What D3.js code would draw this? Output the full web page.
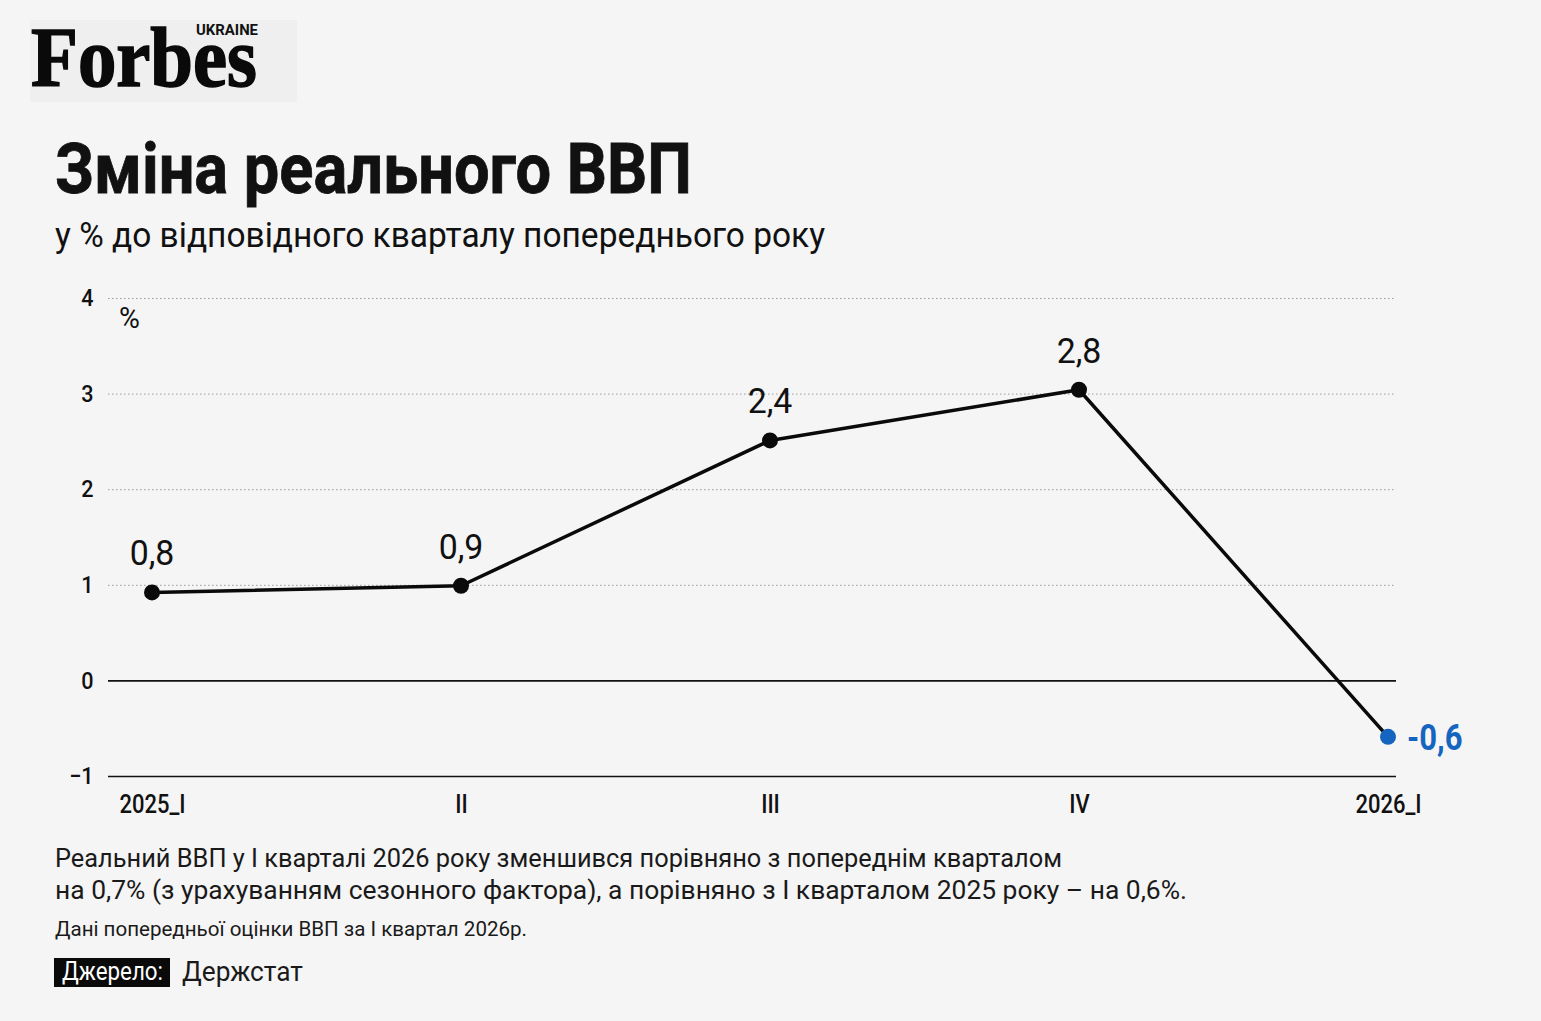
<!DOCTYPE html>
<html>
<head>
<meta charset="utf-8">
<script src="https://cdn.jsdelivr.net/npm/d3@7"></script>
<style>
  body { margin: 0; background: #f5f5f5; }
  svg { display: block; }
</style>
</head>
<body>
<div id="chart"></div>
<script>
let width = 1541;
let height = 1021;

// quarters and values
let quarters = ["2025_I", "II", "III", "IV", "2026_I"];
let plotted = [0.92, 0.99, 2.51, 3.04, -0.59];   // where the dots sit
let valueLabels = ["0,8", "0,9", "2,4", "2,8", "-0,6"];
let yTicks = [-1, 0, 1, 2, 3, 4];

let blue = "#1565c0";
let cond = 0.84; // squeeze Roboto into a condensed look

let svg = d3.select("#chart")
	.append("svg")
	.attr("width", width)
	.attr("height", height)
	.style("background-color", "#f5f5f5");

let x = d3.scalePoint().domain(quarters).range([152, 1388]);
let y = d3.scaleLinear().domain([-1, 4]).range([776, 298]);

function label(str, px, py, size, opts) {
	opts = opts || {};
	let g = svg.append("g").attr("transform", "translate(" + px + "," + py + ") scale(" + (opts.sx || cond) + ",1)");
	let t = g.append("text")
		.text(str)
		.attr("font-family", "Roboto, 'Noto Sans', sans-serif")
		.attr("font-size", size)
		.attr("font-weight", opts.weight || 400)
		.attr("fill", opts.fill || "#111")
		.attr("text-anchor", opts.anchor || "start");
	if (opts.len) t.attr("textLength", opts.len / (opts.sx || cond)).attr("lengthAdjust", "spacingAndGlyphs");
	return t;
}

/*------------------------- logo -------------------------*/

svg.append("rect").attr("x", 30).attr("y", 20).attr("width", 267).attr("height", 82).attr("fill", "#efefef");
svg.append("text").text("Forbes")
	.attr("x", 31).attr("y", 86)
	.attr("font-family", "'Liberation Serif', 'DejaVu Serif', serif")
	.attr("font-weight", 700)
	.attr("font-size", 84)
	.attr("textLength", 226).attr("lengthAdjust", "spacingAndGlyphs")
	.attr("fill", "#0a0a0a")
	.attr("stroke", "#0a0a0a")
	.attr("stroke-width", 1.6);
svg.append("text").text("UKRAINE")
	.attr("x", 196).attr("y", 35)
	.attr("font-family", "Roboto, sans-serif")
	.attr("font-weight", 700)
	.attr("font-size", 15)
	.attr("textLength", 62).attr("lengthAdjust", "spacingAndGlyphs")
	.attr("fill", "#111");

/*------------------------- titles -------------------------*/

label("Зміна реального ВВП", 55, 193, 70, {weight: 700, len: 637}).attr("stroke", "#111").attr("stroke-width", 0.8);
label("у % до відповідного кварталу попереднього року", 55, 247, 36, {len: 770});

/*------------------------- axes -------------------------*/

let yAxis = svg.append("g")
	.attr("transform", "translate(108,0)")
	.call(d3.axisLeft(y).tickValues(yTicks).tickSize(-(1396 - 108)).tickPadding(16).tickFormat(d3.format("d")));

yAxis.select(".domain").remove();
yAxis.selectAll(".tick line")
	.attr("stroke", function(d){ return d <= 0 ? "#111" : "#9a9a9a"; })
	.attr("stroke-width", function(d){ return d <= 0 ? 1.6 : 1; })
	.attr("stroke-dasharray", function(d){ return d <= 0 ? null : "1.5,2.5"; });
yAxis.selectAll(".tick text")
	.attr("font-family", "Roboto, sans-serif")
	.attr("font-size", 24)
	.attr("font-weight", 500)
	.attr("fill", "#111")
	.attr("transform", "scale(0.9,1)");

let xAxis = svg.append("g")
	.attr("transform", "translate(0,776)")
	.call(d3.axisBottom(x).tickSize(0).tickPadding(19));

xAxis.select(".domain").remove();
xAxis.selectAll(".tick text")
	.attr("font-family", "Roboto, sans-serif")
	.attr("font-size", 25)
	.attr("font-weight", 500)
	.attr("fill", "#111")
	.attr("transform", "scale(0.88,1)");

label("%", 119, 328, 30, {sx: 0.95});

/*------------------------- line and dots -------------------------*/

let points = quarters.map(function(q, i){ return {q: q, v: plotted[i], lab: valueLabels[i]}; });

let line = d3.line()
	.x(function(d){ return x(d.q); })
	.y(function(d){ return y(d.v); });

svg.append("path")
	.datum(points)
	.attr("d", line)
	.attr("fill", "none")
	.attr("stroke", "#0a0a0a")
	.attr("stroke-width", 3.5)
	.attr("stroke-linejoin", "round");

svg.append("g").selectAll("circle")
	.data(points)
	.enter()
	.append("circle")
	.attr("cx", function(d){ return x(d.q); })
	.attr("cy", function(d){ return y(d.v); })
	.attr("r", 8)
	.attr("fill", function(d, i){ return i === points.length - 1 ? blue : "#0a0a0a"; });

points.forEach(function(d, i){
	if (i === points.length - 1) {
		label(d.lab, x(d.q) + 19, y(d.v) + 13, 37, {weight: 700, fill: blue});
	} else {
		label(d.lab, x(d.q), y(d.v) - 27, 36, {anchor: "middle", sx: 0.94});
	}
});

/*------------------------- notes -------------------------*/

label("Реальний ВВП у І кварталі 2026 року зменшився порівняно з попереднім кварталом", 55, 867, 26, {sx: 1, len: 1007, fill: "#1a1a1a"});
label("на 0,7% (з урахуванням сезонного фактора), а порівняно з І кварталом 2025 року – на 0,6%.", 55, 899, 26, {sx: 1, len: 1132, fill: "#1a1a1a"});
label("Дані попередньої оцінки ВВП за І квартал 2026р.", 55, 936, 21, {len: 472, fill: "#1a1a1a"});

svg.append("rect").attr("x", 54).attr("y", 958).attr("width", 116).attr("height", 29).attr("fill", "#0a0a0a");
label("Джерело:", 62, 980, 25, {len: 101, fill: "#fff"});
label("Держстат", 182, 981, 28, {len: 121, fill: "#1a1a1a"});
</script>
</body>
</html>
